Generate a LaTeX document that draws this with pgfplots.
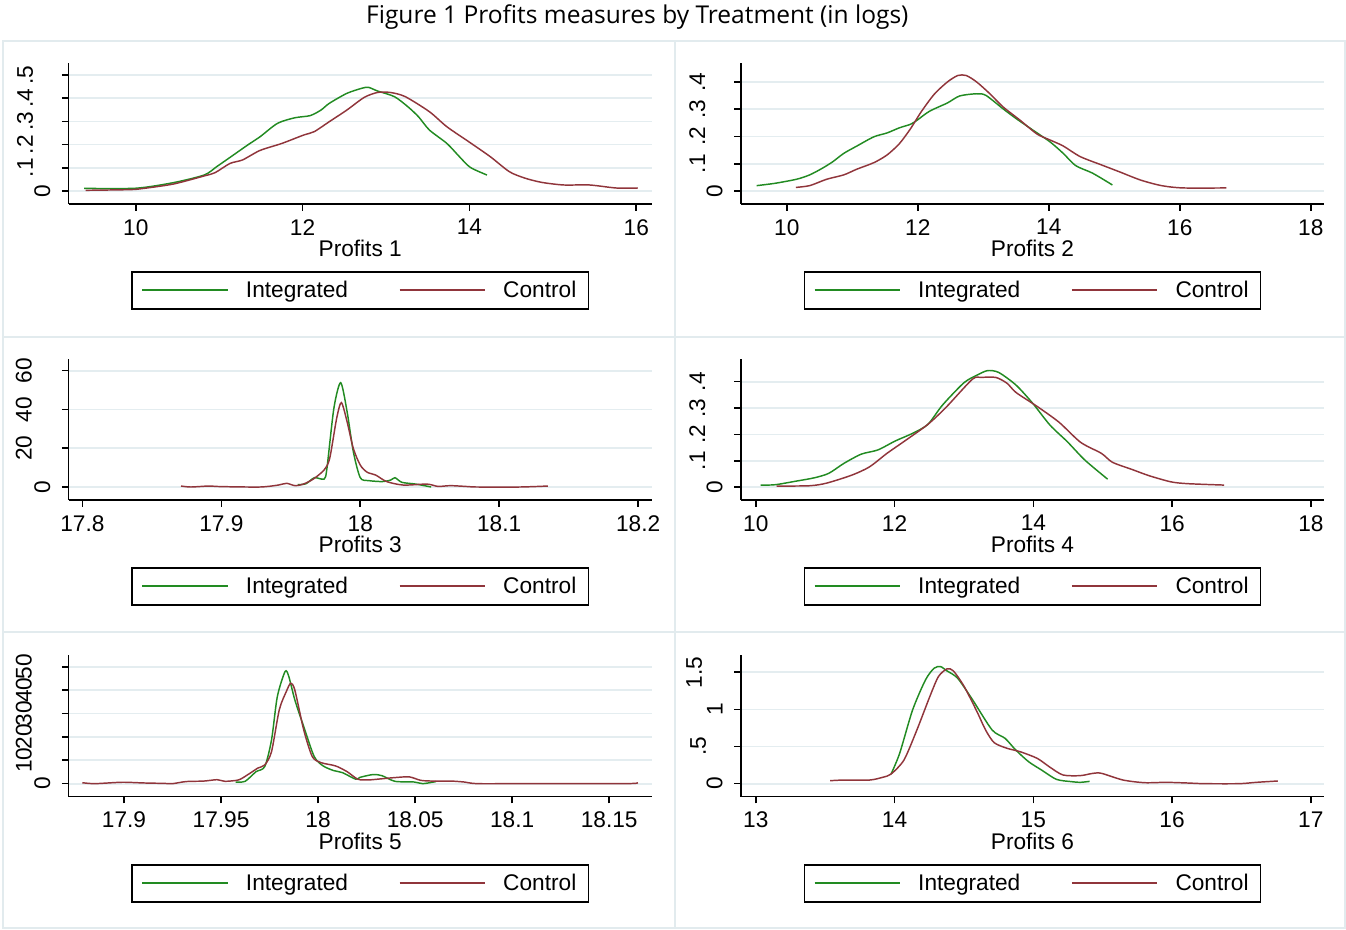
\documentclass[border=0pt]{standalone}
\usepackage{fontspec}
\setmainfont{Liberation Sans}
\newfontfamily\titlefont{Open Sans}
\usepackage{pgfplots}
\pgfplotsset{compat=1.18}

\definecolor{intg}{RGB}{34,139,34}
\definecolor{ctrl}{RGB}{144,53,59}
\definecolor{gridc}{RGB}{228,237,240}
\definecolor{framec}{RGB}{226,235,238}

\newcommand{\tf}{\fontsize{17}{20}\selectfont}
\newcommand{\ra}[2]{\raisebox{#1}{#2}}

\pgfplotsset{
  panel/.style={
    scale only axis, width=437.5pt, height=105.75pt, anchor=south west,
    axis x line*=bottom, axis y line*=left,
    axis line style={line width=1.2pt, -, black},
    tick align=outside, major tick length=5pt,
    every tick/.style={line width=1.2pt, black},
    ymajorgrids, grid style={gridc, line width=1.3pt},
    yticklabel style={rotate=90, anchor=south, font=\tf, inner xsep=2pt, inner ysep=8.5pt},
    xticklabel style={font=\tf, inner sep=0pt, yshift=-6.2pt},
    xlabel style={font=\tf, inner sep=0pt, at={(axis description cs:0.5,0)}, anchor=base, yshift=-39.6pt},
    scaled ticks=false,
    legend columns=2,
    legend style={at={(0.5,-0.475)}, anchor=north, draw=black, line width=1.2pt,
      font=\tf, inner xsep=7pt, inner ysep=5pt,
      /tikz/every odd column/.append style={column sep=11pt},
      /tikz/every even column/.append style={column sep=36pt}},
    legend cell align=left,
    legend image code/.code={\draw[#1, line width=1.4pt] (0pt,0pt) -- (64pt,0pt);},
    every axis plot/.append style={line width=1.1pt, no marks, smooth, tension=0.45},
  }
}

\begin{document}
\begin{tikzpicture}
\useasboundingbox (0pt,0pt) rectangle (1009.5pt,-697.5pt);
\draw[framec, line width=1.3pt] (2.25pt,-30.75pt) rectangle (1008.75pt,-696pt);
\draw[framec, line width=1.3pt] (506.25pt,-30.75pt) -- (506.25pt,-696pt);
\draw[framec, line width=1.3pt] (2.25pt,-252.75pt) -- (1008.75pt,-252.75pt);
\draw[framec, line width=1.3pt] (2.25pt,-474pt) -- (1008.75pt,-474pt);
\node[font=\titlefont\fontsize{18.4}{21}\selectfont, anchor=base] at (478pt,-17.6pt) {Figure 1 Profits measures by Treatment (in logs)};

% Panel 1
\begin{axis}[panel, at={(51.4pt,-153pt)},
  xmin=9.194, xmax=16.187, ymin=-0.056, ymax=0.552,
  xtick={10,12,14,16}, xticklabels={10,12,14,16},
  ytick={0,0.1,0.2,0.3,0.4,0.5}, yticklabels={0,\ra{13pt}{.1},\ra{13pt}{.2},\ra{13pt}{.3},\ra{13pt}{.4},\ra{13pt}{.5}},
  xlabel={Profits 1}]
\addplot[intg] coordinates {(9.38,0.0115)(10.0,0.012)(10.45,0.036)(10.82,0.069)(10.97,0.105)(11.13,0.145)(11.34,0.198)(11.49,0.234)(11.70,0.292)(11.91,0.316)(12.09,0.325)(12.22,0.349)(12.32,0.378)(12.53,0.421)(12.71,0.443)(12.79,0.447)(12.90,0.431)(13.10,0.407)(13.26,0.364)(13.39,0.320)(13.52,0.263)(13.73,0.205)(13.88,0.148)(14.01,0.102)(14.21,0.069)};
\addlegendentry{Integrated}
\addplot[ctrl] coordinates {(9.40,0.003)(9.93,0.006)(10.09,0.011)(10.45,0.030)(10.82,0.065)(10.95,0.079)(11.13,0.119)(11.28,0.134)(11.49,0.175)(11.75,0.205)(12.01,0.241)(12.14,0.256)(12.32,0.299)(12.53,0.349)(12.74,0.404)(12.90,0.425)(13.05,0.425)(13.23,0.407)(13.52,0.342)(13.73,0.277)(13.99,0.213)(14.25,0.148)(14.48,0.083)(14.67,0.055)(14.87,0.037)(15.13,0.026)(15.44,0.026)(15.76,0.013)(16.02,0.013)};
\addlegendentry{Control}
\end{axis}

% Panel 2
\begin{axis}[panel, at={(555.6pt,-153pt)},
  xmin=9.298, xmax=18.203, ymin=-0.048, ymax=0.47,
  xtick={10,12,14,16,18}, xticklabels={10,12,14,16,18},
  ytick={0,0.1,0.2,0.3,0.4}, yticklabels={0,\ra{13pt}{.1},\ra{13pt}{.2},\ra{13pt}{.3},\ra{13pt}{.4}},
  xlabel={Profits 2}]
\addplot[intg] coordinates {(9.54,0.0195)(9.82,0.028)(10.15,0.043)(10.35,0.059)(10.54,0.083)(10.70,0.107)(10.87,0.138)(11.07,0.165)(11.33,0.199)(11.53,0.213)(11.72,0.232)(11.89,0.245)(11.99,0.260)(12.18,0.293)(12.45,0.323)(12.64,0.349)(12.90,0.357)(13.04,0.351)(13.30,0.302)(13.50,0.266)(13.76,0.223)(14.02,0.180)(14.22,0.138)(14.41,0.093)(14.67,0.065)(14.97,0.022)};
\addlegendentry{Integrated}
\addplot[ctrl] coordinates {(10.14,0.013)(10.35,0.0195)(10.61,0.043)(10.87,0.059)(11.07,0.080)(11.33,0.104)(11.53,0.132)(11.72,0.174)(11.89,0.229)(12.05,0.290)(12.25,0.355)(12.45,0.400)(12.61,0.424)(12.74,0.424)(12.90,0.400)(13.10,0.357)(13.30,0.309)(13.56,0.260)(13.82,0.209)(14.02,0.187)(14.22,0.165)(14.48,0.126)(14.81,0.095)(15.07,0.071)(15.40,0.040)(15.72,0.0195)(16.05,0.011)(16.71,0.011)};
\addlegendentry{Control}
\end{axis}

% Panel 3
\begin{axis}[panel, at={(51.4pt,-375pt)},
  xmin=17.790, xmax=18.2099, ymin=-6.7, ymax=66,
  xtick={17.8,17.9,18,18.1,18.2}, xticklabels={17.8,17.9,18,18.1,18.2},
  ytick={0,20,40,60}, yticklabels={0,\ra{14pt}{20},\ra{14pt}{40},\ra{14pt}{60}},
  xlabel={Profits 3}]
\addplot[intg] coordinates {(17.955,1.2)(17.961,1.7)(17.967,4.8)(17.974,4.1)(17.976,9.6)(17.981,40.6)(17.9859,53.8)(17.9905,38.9)(17.995,18.2)(18.000,4.8)(18.006,3.3)(18.016,2.8)(18.022,3.6)(18.025,4.8)(18.030,2.4)(18.040,1.5)(18.051,0)};
\addlegendentry{Integrated}
\addplot[ctrl] coordinates {(17.871,0.5)(17.878,0)(17.891,0.5)(17.900,0.2)(17.928,0)(17.941,1)(17.947,1.9)(17.953,0.7)(17.959,1.5)(17.966,4)(17.974,8.8)(17.978,14.8)(17.983,35.4)(17.9864,43.5)(17.9905,33.7)(17.995,19.9)(18.000,11.3)(18.005,7.6)(18.011,6.2)(18.019,2.8)(18.031,1)(18.048,1.5)(18.056,0.3)(18.065,0.7)(18.078,0.2)(18.084,0)(18.115,0)(18.135,0.5)};
\addlegendentry{Control}
\end{axis}

% Panel 4
\begin{axis}[panel, at={(555.6pt,-375pt)},
  xmin=9.784, xmax=18.19, ymin=-0.049, ymax=0.486,
  xtick={10,12,14,16,18}, xticklabels={10,12,14,16,18},
  ytick={0,0.1,0.2,0.3,0.4}, yticklabels={0,\ra{13pt}{.1},\ra{13pt}{.2},\ra{13pt}{.3},\ra{13pt}{.4}},
  xlabel={Profits 4}]
\addplot[intg] coordinates {(10.07,0.0076)(10.28,0.009)(10.59,0.023)(10.84,0.035)(11.05,0.052)(11.27,0.090)(11.52,0.125)(11.76,0.141)(12.01,0.175)(12.26,0.204)(12.48,0.238)(12.69,0.311)(13.00,0.396)(13.19,0.425)(13.34,0.442)(13.50,0.435)(13.75,0.387)(13.99,0.318)(14.24,0.235)(14.49,0.172)(14.74,0.103)(15.07,0.030)};
\addlegendentry{Integrated}
\addplot[ctrl] coordinates {(10.30,0.004)(10.77,0.005)(11.02,0.015)(11.39,0.046)(11.64,0.077)(11.89,0.128)(12.13,0.172)(12.48,0.238)(12.75,0.305)(13.12,0.409)(13.25,0.416)(13.46,0.416)(13.62,0.394)(13.75,0.359)(14.06,0.305)(14.37,0.246)(14.68,0.170)(14.98,0.128)(15.14,0.094)(15.42,0.067)(15.67,0.043)(15.98,0.020)(16.22,0.013)(16.75,0.0076)};
\addlegendentry{Control}
\end{axis}

% Panel 5
\begin{axis}[panel, at={(51.4pt,-597.5pt)}, height=106.3pt,
  xmin=17.8714, xmax=18.172, ymin=-5.57, ymax=55.1,
  xtick={17.9,17.95,18,18.05,18.1,18.15}, xticklabels={17.9,17.95,18,18.05,18.1,18.15},
  ytick={0,10,20,30,40,50}, yticklabels={0,\ra{14pt}{10},\ra{14pt}{20},\ra{14pt}{30},\ra{14pt}{40},\ra{14pt}{50}},
  xlabel={Profits 5}]
\addplot[intg] coordinates {(17.9575,0.7)(17.9624,1)(17.968,5.1)(17.9725,7.3)(17.976,18.7)(17.979,37.3)(17.983,48)(17.9849,45.9)(17.988,35.9)(17.9926,24.4)(17.998,11.6)(18.0026,7.6)(18.008,5.6)(18.0126,4.7)(18.0194,1.9)(18.0216,2.7)(18.0283,3.9)(18.033,3.4)(18.0396,1)(18.0496,0.7)(18.054,0)(18.0608,0.9)};
\addlegendentry{Integrated}
\addplot[ctrl] coordinates {(17.8785,0.4)(17.885,0)(17.899,0.6)(17.910,0.3)(17.921,0.1)(17.925,0)(17.932,0.9)(17.941,1.1)(17.948,1.7)(17.952,1.0)(17.959,1.6)(17.9635,3.7)(17.969,6.7)(17.9725,8)(17.976,13.7)(17.980,31.6)(17.9836,39.4)(17.9859,43)(17.988,40.1)(17.9926,23)(17.997,11.6)(18.0015,9)(18.009,7.6)(18.015,5.1)(18.0205,1.9)(18.026,1.6)(18.033,2.1)(18.0396,2.6)(18.047,2.9)(18.053,1.4)(18.0597,1.1)(18.0686,1.1)(18.0753,0.7)(18.082,0)(18.104,0)(18.158,0)(18.1648,0.4)};
\addlegendentry{Control}
\end{axis}

% Panel 6
\begin{axis}[panel, at={(555.6pt,-597.5pt)}, height=106.3pt,
  xmin=12.892, xmax=17.096, ymin=-0.175, ymax=1.733,
  xtick={13,14,15,16,17}, xticklabels={13,14,15,16,17},
  ytick={0,0.5,1,1.5}, yticklabels={0,\ra{12.5pt}{.5},1,\ra{15.5pt}{1.5}},
  xlabel={Profits 6}]
\addplot[intg] coordinates {(13.975,0.130)(14.037,0.409)(14.130,0.992)(14.223,1.397)(14.285,1.554)(14.331,1.576)(14.378,1.518)(14.455,1.419)(14.563,1.127)(14.703,0.723)(14.796,0.611)(14.873,0.454)(14.966,0.296)(15.059,0.184)(15.167,0.058)(15.276,0.027)(15.337,0.018)(15.406,0.031)};
\addlegendentry{Integrated}
\addplot[ctrl] coordinates {(13.536,0.04)(13.635,0.049)(13.82,0.049)(13.913,0.085)(13.975,0.130)(14.068,0.319)(14.161,0.723)(14.254,1.172)(14.316,1.441)(14.378,1.545)(14.424,1.518)(14.502,1.307)(14.594,0.970)(14.656,0.723)(14.718,0.552)(14.811,0.476)(14.904,0.431)(15.028,0.341)(15.121,0.220)(15.214,0.117)(15.337,0.108)(15.430,0.139)(15.492,0.139)(15.647,0.049)(15.802,0.013)(15.957,0.018)(16.111,0.009)(16.235,0)(16.483,0)(16.607,0.018)(16.762,0.036)};
\addlegendentry{Control}
\end{axis}
\end{tikzpicture}
\end{document}
